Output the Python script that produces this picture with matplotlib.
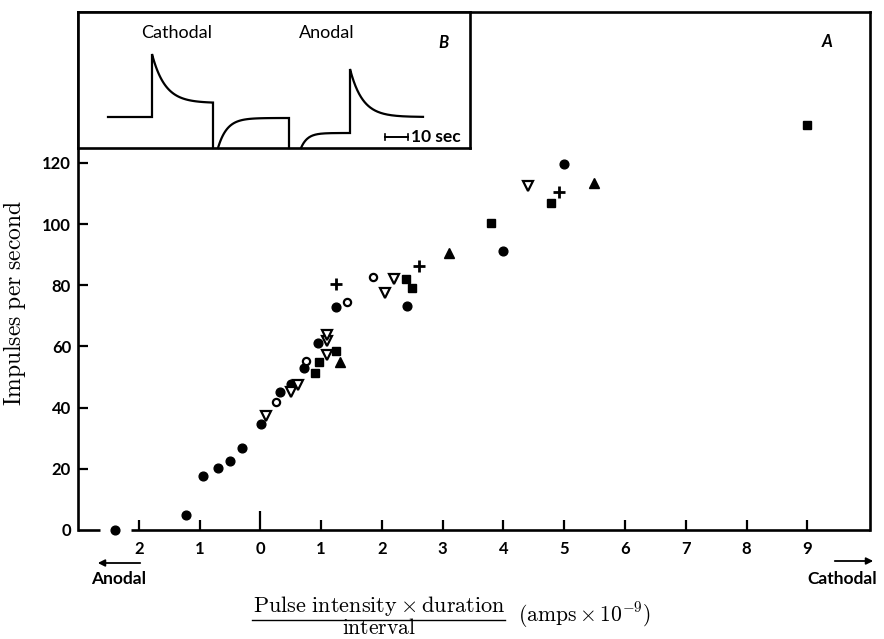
import numpy as np
import matplotlib
matplotlib.use("Agg")
import matplotlib.pyplot as plt
from matplotlib.lines import Line2D

plt.rcParams['mathtext.fontset'] = 'cm'
SANS = 'Lato'

# ---------------- data ----------------
filled_circle_x = [-2.39, -1.23, -0.95, -0.70, -0.50, -0.31, 0.01, 0.33, 0.50, 0.71, 0.95, 1.24, 2.42, 4.00, 5.00]
filled_circle_y = [0.0, 4.9, 17.7, 20.2, 22.6, 26.9, 34.6, 45.0, 47.7, 52.8, 61.0, 72.9, 73.1, 91.1, 119.5]

open_circle_x = [0.25, 0.75, 1.43, 1.85]
open_circle_y = [41.7, 55.2, 74.6, 82.8]

open_tri_x = [0.10, 0.51, 0.62, 1.09, 1.10, 1.10, 2.05, 2.20, 4.40]
open_tri_y = [37.3, 45.2, 47.4, 57.2, 61.7, 63.8, 77.3, 82.1, 112.5]

filled_square_x = [0.90, 0.96, 1.24, 2.40, 2.50, 3.79, 4.79, 8.99]
filled_square_y = [51.2, 54.9, 58.6, 82.1, 79.0, 100.2, 107.0, 132.4]

filled_tri_x = [1.31, 3.10, 5.49]
filled_tri_y = [55.0, 90.6, 113.3]

plus_x = [1.25, 2.61, 4.91]
plus_y = [80.5, 86.4, 110.6]

x_tick_values = [-2, -1, 0, 1, 2, 3, 4, 5, 6, 7, 8, 9]
x_tick_labels = ['2', '1', '0', '1', '2', '3', '4', '5', '6', '7', '8', '9']
y_tick_values = [0, 20, 40, 60, 80, 100, 120]
y_tick_labels = ['0', '20', '40', '60', '80', '100', '120']

# inset traces (schematic recording): levels in inset units
cath_base, cath_peak, cath_plateau = 31, 94, 45
an_off_level = 30
an_pre, an_peak, an_plateau = 15, 79, 31

# ---------------- figure ----------------
W, H = 884, 639
fig = plt.figure(figsize=(W / 100, H / 100), dpi=100)

def fx(px):
    return px / W

def fy(py):
    return 1 - py / H

L, R, T, B = 78, 870, 12, 530
ax = fig.add_axes([fx(L), fy(B), fx(R) - fx(L), fy(T) - fy(B)])
ax.set_xlim(-3.0, 10.03)
ax.set_ylim(0, (B - T) / 3.06)

lw = 1.9
for s in ['left', 'right', 'top']:
    ax.spines[s].set_linewidth(lw)
ax.spines['bottom'].set_visible(False)
# broken x-axis line
ax.plot([-3.0, -2.64], [0, 0], color='black', lw=lw, clip_on=False, solid_capstyle='butt')
ax.plot([-2.13, 10.03], [0, 0], color='black', lw=lw, clip_on=False, solid_capstyle='butt')

ax.set_xticks(x_tick_values)
ax.set_xticklabels(x_tick_labels)
ax.set_yticks(y_tick_values)
ax.set_yticklabels(y_tick_labels)
ax.tick_params(axis='x', direction='in', length=7.5, width=1.6, pad=8)
ax.tick_params(axis='y', direction='in', length=7.5, width=1.6, pad=5)
ax.yaxis.get_major_ticks()[0].tick1line.set_visible(False)
for lab in ax.get_xticklabels() + ax.get_yticklabels():
    lab.set_fontfamily(SANS)
    lab.set_fontweight('bold')
    lab.set_fontsize(12)
# taller zero tick
ax.xaxis.get_major_ticks()[2].tick1line.set_markersize(13.5)

kw = dict(linestyle='none', clip_on=False, zorder=5)
ax.plot(filled_circle_x, filled_circle_y, marker='o', ms=6.3, mfc='black', mec='black', **kw)
ax.plot(open_circle_x, open_circle_y, marker='o', ms=5.2, mfc='white', mec='black', mew=1.6, **kw)
ax.plot(open_tri_x, open_tri_y, marker='v', ms=7.0, mfc='white', mec='black', mew=1.6, **kw)
ax.plot(filled_square_x, filled_square_y, marker='s', ms=5.8, mfc='black', mec='black', **kw)
ax.plot(filled_tri_x, filled_tri_y, marker='^', ms=7.2, mfc='black', mec='black', **kw)
ax.plot(plus_x, plus_y, marker='+', ms=8.5, mec='black', mew=2.0, **kw)

ax.text(fx(827), fy(42), 'A', transform=fig.transFigure, fontfamily=SANS, fontweight='bold',
        fontstyle='italic', fontsize=12, ha='center', va='center')

# y label
fig.text(fx(15), fy(303), r'$\mathrm{Impulses\ per\ second}$', rotation=90, fontsize=17,
         ha='center', va='center')

# x label as fraction
fig.text(fx(379), fy(612), r'$\mathrm{Pulse\ intensity\times duration}$', fontsize=16,
         ha='center', va='baseline')
fig.add_artist(Line2D([fx(252), fx(505)], [fy(620), fy(620)], color='black', lw=1.0))
fig.text(fx(379), fy(638), r'$\mathrm{interval}$', fontsize=15.5, ha='center', va='bottom')
fig.text(fx(518), fy(621), r'$(\mathrm{amps}\times10^{-9})$', fontsize=15.5, ha='left', va='baseline')

# Anodal / Cathodal arrows
fig.add_artist(matplotlib.patches.FancyArrowPatch((fx(143), fy(563)), (fx(95), fy(563)),
               transform=fig.transFigure, arrowstyle='-|>', mutation_scale=10, color='black', lw=1.3))
fig.text(fx(119), fy(579), 'Anodal', fontfamily=SANS, fontweight='bold', fontsize=12.5,
         ha='center', va='center')
fig.add_artist(matplotlib.patches.FancyArrowPatch((fx(832), fy(561)), (fx(876), fy(561)),
               transform=fig.transFigure, arrowstyle='-|>', mutation_scale=10, color='black', lw=1.3))
fig.text(fx(842), fy(579), 'Cathodal', fontfamily=SANS, fontweight='bold', fontsize=12.5,
         ha='center', va='center')

# ---------------- inset B ----------------
IL, IR, IT, IB = 78, 470, 12, 148
ai = fig.add_axes([fx(IL), fy(IB), fx(IR) - fx(IL), fy(IT) - fy(IB)])
ai.set_xlim(0, IR - IL)
ai.set_ylim(0, IB - IT)
ai.set_xticks([])
ai.set_yticks([])
for s in ai.spines.values():
    s.set_linewidth(lw)

tr_kw = dict(color='black', lw=1.6, solid_joinstyle='miter')
# cathodal response
t1 = np.linspace(0, 61, 120)
seg1 = cath_plateau + (cath_peak - cath_plateau) * np.exp(-t1 / 13.0)
x1 = np.concatenate([[30, 74], 74 + t1, [135]])
y1 = np.concatenate([[cath_base, cath_base], seg1, [0]])
ai.plot(x1, y1, clip_on=False, **tr_kw)
# anodal-off recovery
t2 = np.linspace(0, 71, 120)
seg2 = an_off_level * (1 - np.exp(-t2 / 9.0))
ai.plot(np.concatenate([140 + t2, [211]]), np.concatenate([seg2, [0]]), clip_on=False, **tr_kw)
# anodal response
t3 = np.linspace(0, 49, 80)
seg3 = an_pre * (1 - np.exp(-t3 / 6.5))
t4 = np.linspace(0, 73, 120)
seg4 = an_plateau + (an_peak - an_plateau) * np.exp(-t4 / 12.5)
ai.plot(np.concatenate([223 + t3, 272 + t4]), np.concatenate([seg3, seg4]), clip_on=False, **tr_kw)

# scale bar
ai.plot([307, 330], [11, 11], color='black', lw=1.4)
ai.plot([307, 307], [8, 14], color='black', lw=1.2)
ai.plot([330, 330], [8, 14], color='black', lw=1.2)
ai.text(333, 11, '10 sec', fontfamily=SANS, fontweight='bold', fontsize=12.5, ha='left', va='center')

ai.text(99, 115, 'Cathodal', fontfamily=SANS, fontsize=13, ha='center', va='center')
ai.text(249, 115, 'Anodal', fontfamily=SANS, fontsize=13, ha='center', va='center')
ai.text(365, 105, 'B', fontfamily=SANS, fontweight='bold', fontstyle='italic', fontsize=12,
        ha='center', va='center')

fig.savefig('out.png', dpi=100)
